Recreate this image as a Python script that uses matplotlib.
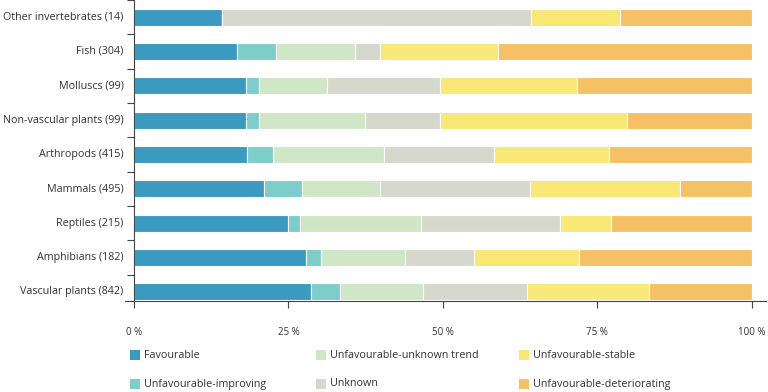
import matplotlib.pyplot as plt
from matplotlib.patches import Rectangle
import numpy as np

plt.rcParams['font.family'] = ['Open Sans', 'DejaVu Sans']

# Dados (percentagens)
grupos = ['Other invertebrates (14)', 'Fish (304)', 'Molluscs (99)', 'Non-vascular plants (99)',
          'Arthropods (415)', 'Mammals (495)', 'Reptiles (215)', 'Amphibians (182)',
          'Vascular plants (842)']
favourable = [14.3, 16.7, 18.2, 18.2, 18.3, 21.1, 25.0, 27.9, 28.6]
improving = [0.0, 6.3, 2.0, 2.0, 4.2, 6.1, 1.9, 2.3, 4.7]
unknown_trend = [0.0, 12.8, 11.1, 17.2, 18.0, 12.6, 19.5, 13.7, 13.4]
unknown = [50.0, 4.0, 18.2, 12.1, 17.8, 24.3, 22.5, 11.1, 16.9]
stable = [14.3, 19.1, 22.2, 30.3, 18.6, 24.2, 8.3, 17.1, 19.7]
deteriorating = [21.4, 41.1, 28.3, 20.2, 23.1, 11.7, 22.8, 27.9, 16.7]

series = [favourable, improving, unknown_trend, unknown, stable, deteriorating]
nomes = ['Favourable', 'Unfavourable-improving', 'Unfavourable-unknown trend',
         'Unknown', 'Unfavourable-stable', 'Unfavourable-deteriorating']
cores = ['#3a9ac0', '#7dcdcb', '#cfe7c7', '#d7d8cc', '#f9e776', '#f6c164']

W, H = 768, 392
fig = plt.figure(figsize=(W / 100, H / 100), dpi=100)
ax = fig.add_axes([125 / W, 91 / H, 641 / W, 301 / H])

# barras de baixo para cima (Vascular plants em baixo)
y = np.arange(len(grupos))[::-1]
esquerda = np.zeros(len(grupos))
for vals, nome, cor in zip(series, nomes, cores):
    vals = np.array(vals)
    ax.barh(y, vals, left=esquerda, height=0.5, color=cor, edgecolor='white',
            linewidth=0.8, label=nome)
    esquerda += vals

ax.set_xlim(-1.46, 102.3)
ax.set_ylim(-0.27, 8.48)

ax.spines['top'].set_visible(False)
ax.spines['right'].set_visible(False)
ax.spines['left'].set_position(('data', 0))
ax.spines['left'].set_color('#444444')
ax.spines['bottom'].set_color('#444444')

ax.set_yticks(np.arange(len(grupos)) + 0.5)
ax.set_yticklabels([])
ax.tick_params(axis='y', length=5, color='#444444')
for yi, g in zip(y, grupos):
    ax.text(-1.7, yi, g, ha='right', va='center', fontsize=7.75, color='#333333')

ax.set_xticks([0, 25, 50, 75, 100])
ax.set_xticklabels(['0 %', '25 %', '50 %', '75 %', '100 %'], fontsize=7, color='#333333')
ax.tick_params(axis='x', length=5, pad=14, color='#444444')

# legenda: 3 colunas x 2 linhas, posicionada como no original
col_x = [130, 316, 519]
lin_y = [355, 384]
for i, (nome, cor) in enumerate(zip(nomes, cores)):
    cx = col_x[i // 2]
    cy = lin_y[i % 2]
    fig.patches.append(Rectangle(((cx) / W, 1 - (cy + 5) / H), 10 / W, 10 / H,
                                 transform=fig.transFigure, facecolor=cor,
                                 edgecolor='none'))
    fig.text((cx + 14) / W, 1 - cy / H, nome, ha='left', va='center',
             fontsize=7.75, color='#333333')

fig.savefig('out.png', dpi=100)
